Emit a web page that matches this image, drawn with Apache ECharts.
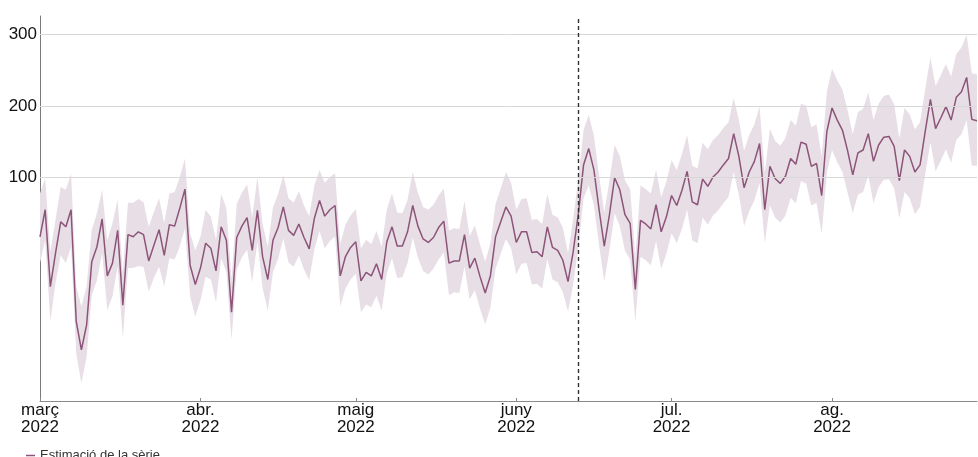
<!DOCTYPE html>
<html>
<head>
<meta charset="utf-8">
<script src="https://cdn.jsdelivr.net/npm/echarts@6/dist/echarts.min.js"></script>
<style>
html,body{margin:0;padding:0;background:#fff;}
#chart{width:978px;height:457px;}
</style>
</head>
<body>
<div id="chart"></div>
<script>
// Daily series starting 2022-03-01
const startDate = '2022-03-01';
const cutoffDate = '2022-06-13';
const monthNames = {3:'març',4:'abr.',5:'maig',6:'juny',7:'jul.',8:'ag.'};
const yTickValues = [100, 200, 300];

const estimate = [
  16, 54, -54, -7, 37, 30, 54, -103, -143, -108,
  -19, 2, 41, -39, -21, 25, -80, 19, 16, 23,
  19, -18, 4, 26, -10, 33, 31, 56, 83, -24,
  -51, -28, 7, 0, -32, 30, 11, -90, 15, 31,
  43, -3, 53, -12, -44, 11, 29, 58, 25, 18,
  34, 15, -1, 42, 67, 45, 54, 60, -39, -12,
  1, 9, -46, -34, -39, -22, -44, 9, 30, 3,
  3, 23, 60, 31, 13, 8, 15, 29, 38, -21,
  -18, -18, 19, -28, -14, -40, -63, -39, 16, 37,
  58, 45, 8, 23, 23, -6, -5, -12, 30, 1,
  -3, -17, -47, -5, 49, 117, 140, 110, 54, 3,
  47, 99, 82, 47, 35, -58, 39, 34, 27, 61,
  23, 44, 74, 60, 81, 108, 65, 61, 97, 87,
  100, 107, 117, 126, 161, 129, 85, 107, 122, 147,
  54, 115, 98, 91, 101, 126, 118, 149, 146, 115,
  119, 74, 164, 197, 180, 166, 137, 103, 134, 138,
  161, 122, 145, 156, 157, 143, 95, 138, 129, 107,
  117, 164, 209, 168, 183, 199, 180, 212, 220, 240,
  181, 179
];

const upper = [
  77, 98, -5, 40, 86, 82, 105, -54, -82, -54,
  26, 49, 82, 11, 35, 68, -35, 64, 64, 69,
  65, 30, 51, 70, 35, 77, 79, 100, 126, 21,
  -3, 16, 54, 44, 12, 76, 56, -44, 62, 78,
  90, 44, 100, 34, 2, 57, 76, 103, 70, 64,
  80, 60, 45, 88, 110, 92, 100, 105, 6, 33,
  46, 55, 0, 12, 6, 24, 2, 55, 77, 50,
  49, 68, 107, 78, 58, 54, 61, 74, 84, 25,
  28, 27, 66, 17, 32, 5, -19, 7, 62, 84,
  107, 92, 54, 69, 70, 40, 41, 34, 76, 47,
  43, 29, -7, 42, 98, 166, 187, 158, 102, 50,
  95, 145, 130, 95, 83, -12, 88, 83, 77, 110,
  72, 94, 124, 110, 132, 159, 116, 112, 148, 139,
  152, 159, 169, 177, 211, 180, 137, 159, 174, 199,
  106, 168, 151, 144, 155, 180, 172, 203, 200, 170,
  174, 129, 220, 252, 236, 223, 194, 160, 191, 196,
  219, 180, 203, 214, 216, 202, 154, 197, 188, 167,
  177, 224, 268, 228, 243, 259, 241, 273, 282, 300,
  246, 244
];

const lower = [
  -21, 11, -103, -49, -10, -21, 2, -148, -190, -153,
  -66, -45, -7, -87, -68, -26, -127, -28, -28, -25,
  -26, -61, -42, -26, -54, -14, -16, 2, 28, -68,
  -96, -73, -40, -44, -76, -14, -33, -129, -30, -13,
  -2, -48, 9, -56, -88, -34, -15, 14, -20, -26,
  -10, -30, -45, -2, 24, 0, 10, 16, -82, -57,
  -44, -36, -90, -79, -83, -67, -88, -35, -14, -42,
  -41, -21, 15, -13, -32, -37, -29, -16, -6, -66,
  -62, -63, -26, -72, -59, -85, -107, -84, -29, -8,
  13, 0, -37, -22, -21, -51, -50, -57, -15, -44,
  -48, -62, -89, -51, 2, 70, 88, 60, 4, -47,
  -3, 49, 31, -4, -16, -103, -12, -17, -24, 10,
  -29, -8, 21, 7, 27, 54, 11, 7, 43, 33,
  46, 53, 63, 72, 107, 75, 31, 52, 67, 92,
  7, 60, 43, 36, 46, 71, 63, 94, 91, 60,
  64, 20, 106, 138, 121, 107, 78, 49, 75, 79,
  102, 63, 86, 96, 97, 84, 42, 79, 70, 48,
  58, 104, 149, 108, 123, 139, 120, 152, 160, 180,
  116, 116
];

// Build date categories
function buildDates(start, n) {
  const parts = start.split('-').map(Number);
  const base = Date.UTC(parts[0], parts[1] - 1, parts[2]);
  const out = [];
  for (let i = 0; i < n; i++) {
    const d = new Date(base + i * 86400000);
    const mm = String(d.getUTCMonth() + 1).padStart(2, '0');
    const dd = String(d.getUTCDate()).padStart(2, '0');
    out.push(d.getUTCFullYear() + '-' + mm + '-' + dd);
  }
  return out;
}
const dates = buildDates(startDate, estimate.length);
const bandWidth = upper.map((u, i) => u - lower[i]);

const isMonthStart = (idx, val) => String(val).slice(8, 10) === '01';
const FONT = '"Liberation Sans", Arial, sans-serif';
const LINE_COLOR = '#8c5479';
const BAND_COLOR = '#e8dee6';

const chart = echarts.init(document.getElementById('chart'), null, {renderer: 'canvas'});
chart.setOption({
  animation: false,
  backgroundColor: '#ffffff',
  grid: {left: 40, right: 1, top: 16, bottom: 56, containLabel: false},
  legend: {
    data: [{name: 'Estimació de la sèrie', icon: 'rect'}],
    left: 21, top: 444,
    itemWidth: 9, itemHeight: 1.5, itemGap: 10,
    textStyle: {fontFamily: FONT, fontSize: 13, color: '#333', padding: [0, 0, 0, 0]}
  },
  xAxis: {
    type: 'category',
    data: dates,
    boundaryGap: false,
    axisLine: {show: true, onZero: false, lineStyle: {color: '#8a8a8a', width: 1}},
    axisTick: {show: true, inside: true, length: 3, interval: isMonthStart, lineStyle: {color: '#8a8a8a'}},
    axisLabel: {
      interval: isMonthStart,
      margin: 1,
      fontFamily: FONT, fontSize: 17, lineHeight: 17, color: '#111',
      formatter: function (v) {
        const m = Number(v.slice(5, 7));
        return monthNames[m] + '\n' + v.slice(0, 4);
      }
    },
    splitLine: {show: false}
  },
  yAxis: {
    type: 'value',
    min: -214.8,
    max: 326.3,
    axisLine: {show: true, lineStyle: {color: '#7a7a7a', width: 1}},
    axisTick: {show: false},
    splitLine: {show: false},
    axisLabel: {
      margin: 3,
      fontFamily: FONT, fontSize: 17, color: '#111',
      showMinLabel: false, showMaxLabel: false,
      formatter: function (v) {
        return yTickValues.indexOf(v) >= 0 ? String(v) : '';
      }
    }
  },
  series: [
    {
      name: 'lower',
      type: 'line',
      data: lower,
      stack: 'band',
      stackStrategy: 'all',
      symbol: 'none',
      lineStyle: {opacity: 0},
      silent: true,
      z: 1,
      markLine: {
        silent: true,
        symbol: ['none', 'none'],
        label: {show: false},
        lineStyle: {color: '#d8d8d8', width: 1, type: 'solid'},
        data: yTickValues.map(v => ({yAxis: v}))
      }
    },
    {
      name: 'band',
      type: 'line',
      data: bandWidth,
      stack: 'band',
      stackStrategy: 'all',
      symbol: 'none',
      lineStyle: {opacity: 0},
      areaStyle: {color: BAND_COLOR, opacity: 1},
      silent: true,
      z: 2
    },
    {
      name: 'Estimació de la sèrie',
      type: 'line',
      data: estimate,
      symbol: 'none',
      showSymbol: false,
      lineStyle: {color: LINE_COLOR, width: 1.5},
      itemStyle: {color: LINE_COLOR},
      z: 3,
      markLine: {
        silent: true,
        symbol: ['none', 'none'],
        label: {show: false},
        lineStyle: {color: '#333', width: 1.4, type: [4, 3]},
        data: [{xAxis: cutoffDate}]
      }
    }
  ]
});
</script>
</body>
</html>
